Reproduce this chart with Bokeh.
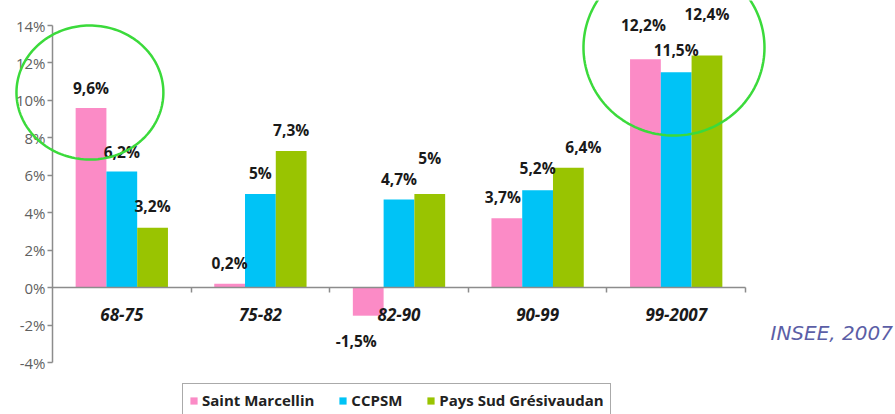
import numpy as np
from bokeh.plotting import figure
from bokeh.models import (Range1d, ColumnDataSource, LinearAxis, FixedTicker, PrintfTickFormatter,
                          Legend, LegendItem, LabelSet, Label, PolyAnnotation)
from bokeh.transform import dodge
from bokeh.core.properties import value
from bokeh.embed import file_html
from bokeh.resources import INLINE

# ---------------- data ----------------
periods = ["68-75", "75-82", "82-90", "90-99", "99-2007"]
series_names = ["Saint Marcellin", "CCPSM", "Pays Sud Grésivaudan"]
saint_marcellin = [9.6, 0.2, -1.5, 3.7, 12.2]
ccpsm = [6.2, 5.0, 4.7, 5.2, 11.5]
pays_sud = [3.2, 7.3, 5.0, 6.4, 12.4]
y_ticks = [-4, -2, 0, 2, 4, 6, 8, 10, 12, 14]
source_note = "INSEE, 2007"

# ---------------- styles / layout ----------------
W, H = 895, 414
colors = ["#FB8BC6", "#00C3F6", "#99C401"]
bar_w = 0.222
offsets = [-bar_w, 0.0, bar_w]
# label placement tweaks (screen px): lift above value, horizontal shift
label_lift = [[20, 21, -25, 21, 34], [20, 21, 21, 22, 22], [22, 21, 36, 21, 41]]
label_shift = [[0, 0, -12, -4, -2], [0, 0, 0, 0, 0], [0, 0, 0, 15, 0]]
FONT = "Open Sans"
AX = "#8C8C8C"

n = len(periods)
ymin, ymax = y_ticks[0], y_ticks[-1]
# plot area in pixels: left 52, right 745, top 25, bottom 362
px_x = (745 - 52) / n
px_y = (362 - 25) / (ymax - ymin)
x_range = Range1d(-0.5 - 52 / px_x, n - 0.5 + (W - 745) / px_x)
y_range = Range1d(ymin - (H - 362) / px_y, ymax + 25 / px_y)

p = figure(x_range=x_range, y_range=y_range, width=W, height=H,
           output_backend="svg", toolbar_location=None,
           x_axis_location=None, y_axis_location=None, min_border=0)
p.outline_line_color = None
p.xgrid.visible = False
p.ygrid.visible = False

# y axis
yaxis = LinearAxis(fixed_location=-0.5, bounds=(ymin, ymax),
                   ticker=FixedTicker(ticks=y_ticks), formatter=PrintfTickFormatter(format="%d%%"))
yaxis.axis_line_color = AX
yaxis.axis_line_width = 1.5
yaxis.major_tick_line_color = AX
yaxis.major_tick_line_width = 1.5
yaxis.major_tick_out = 5
yaxis.major_tick_in = 0
yaxis.minor_tick_line_color = None
yaxis.major_label_text_font = FONT
yaxis.major_label_text_font_size = "15px"
yaxis.major_label_text_color = "#5F5F5F"
yaxis.major_label_standoff = 2
p.add_layout(yaxis, "left")

# x (category) axis at 0%
centers = list(range(n))
xaxis = LinearAxis(fixed_location=0, bounds=(-0.5, n - 0.5),
                   ticker=FixedTicker(ticks=centers, minor_ticks=[c + 0.5 for c in centers]),
                   major_label_overrides={c: periods[c] for c in centers})
xaxis.axis_line_color = AX
xaxis.axis_line_width = 1.5
xaxis.major_tick_line_color = None
xaxis.minor_tick_line_color = AX
xaxis.minor_tick_line_width = 1.5
xaxis.minor_tick_out = 5
xaxis.minor_tick_in = 0
xaxis.major_label_text_font = FONT
xaxis.major_label_text_font_size = "17px"
xaxis.major_label_text_font_style = "bold italic"
xaxis.major_label_text_color = "#1A1A1A"
xaxis.major_label_standoff = 14
p.add_layout(xaxis, "below")

# bars
src = ColumnDataSource(dict(xc=centers, sm=saint_marcellin, cc=ccpsm, ps=pays_sud))
keys = ["sm", "cc", "ps"]
items = []
for j, k in enumerate(keys):
    r = p.vbar(x=dodge("xc", offsets[j]), top=k, width=bar_w,
               source=src, fill_color=colors[j], line_color=None)
    items.append(LegendItem(label=series_names[j], renderers=[r]))

# value labels
all_vals = [saint_marcellin, ccpsm, pays_sud]
lx, ly, lt, ldx, ldy = [], [], [], [], []
for j, vals in enumerate(all_vals):
    for i, v in enumerate(vals):
        lx.append(centers[i] + offsets[j])
        ly.append(v)
        lt.append(f"{v:g}".replace(".", ",") + "%")
        ldx.append(label_shift[j][i])
        ldy.append(label_lift[j][i])
lsrc = ColumnDataSource(dict(x=lx, y=ly, t=lt, dx=ldx, dy=ldy))
labels = LabelSet(x="x", y="y", text="t", x_offset="dx", y_offset="dy", source=lsrc,
                  text_align="center", text_baseline="middle",
                  text_font=value(FONT), text_font_size="15.5px", text_font_style="bold",
                  text_color="#1A1A1A")
p.add_layout(labels)

# highlight ellipses (center x, center y, radius x, radius y in data units)
t = np.linspace(0, 2 * np.pi, 160)
for cx, cy, rx, ry in [(-0.23, 10.42, 0.53, 3.58), (3.984, 12.82, 0.653, 4.70)]:
    p.add_layout(PolyAnnotation(xs=list(cx + rx * np.cos(t)), ys=list(cy + ry * np.sin(t)),
                                fill_alpha=0, line_color="#3BDA3B", line_alpha=1, line_width=2.5))

# source note
p.add_layout(Label(x=n - 0.5 + 25 / px_x, y=-2.4, text=source_note, text_align="left",
                   text_baseline="middle", text_font="DejaVu Sans", text_font_style="italic",
                   text_font_size="20px", text_color="#5B5EA6"))

legend = Legend(items=items, orientation="horizontal", location=(182, -3),
                label_text_font=FONT, label_text_font_size="15px", label_text_font_style="bold",
                label_text_color="#222222", glyph_width=9, glyph_height=9,
                label_standoff=4, spacing=24, padding=6, margin=0,
                border_line_color="#555555", border_line_width=1,
                background_fill_color="white", background_fill_alpha=1)
p.add_layout(legend, "center")

open("out.html", "w").write(file_html(p, INLINE))
